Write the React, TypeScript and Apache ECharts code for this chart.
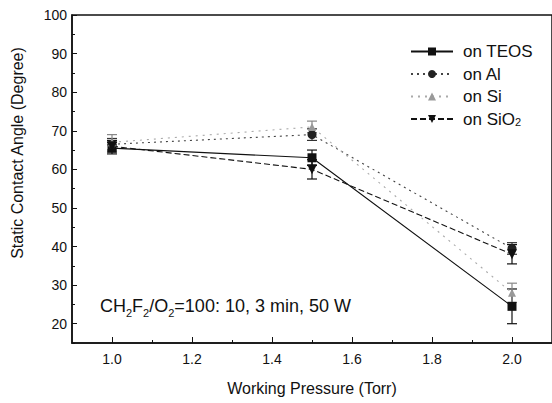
import React, { useEffect, useRef } from "react";
import * as echarts from "echarts";

const pressures = [1.0, 1.5, 2.0];
const teos = [65.5, 63, 24.5];
const teosErr = [1.5, 2, 4.5];
const al = [66.5, 69, 39.5];
const alErr = [1.5, 1.5, 1.5];
const si = [67, 71, 28];
const siErr = [2, 1.5, 2.5];
const sio2 = [66, 60, 38];
const sio2Err = [1.5, 2.5, 2.5];

const xMajor = [1.0, 1.2, 1.4, 1.6, 1.8, 2.0];
const xMinor = [1.1, 1.3, 1.5, 1.7, 1.9];
const yMajor = [20, 30, 40, 50, 60, 70, 80, 90, 100];
const yMinor = [15, 25, 35, 45, 55, 65, 75, 85, 95];

const FONT = "'Liberation Sans', Arial, sans-serif";

function pts(vals: number[]) {
  return pressures.map((p, i) => [p, vals[i]]);
}
function errs(vals: number[], e: number[]) {
  return pressures.map((p, i) => [p, vals[i] - e[i], vals[i] + e[i]]);
}

function errSeries(name: string, vals: number[], e: number[], color: string) {
  return {
    type: "custom",
    name: name + "-err",
    xAxisIndex: 0,
    yAxisIndex: 0,
    silent: true,
    z: 3,
    data: errs(vals, e),
    renderItem: (params: any, api: any) => {
      const x = api.value(0);
      const lo = api.coord([x, api.value(1)]);
      const hi = api.coord([x, api.value(2)]);
      const w = 5;
      const st = { stroke: color, lineWidth: 1.2 };
      return {
        type: "group",
        children: [
          { type: "line", shape: { x1: lo[0], y1: lo[1], x2: hi[0], y2: hi[1] }, style: st },
          { type: "line", shape: { x1: lo[0] - w, y1: lo[1], x2: lo[0] + w, y2: lo[1] }, style: st },
          { type: "line", shape: { x1: hi[0] - w, y1: hi[1], x2: hi[0] + w, y2: hi[1] }, style: st },
        ],
      };
    },
  };
}

export default function App() {
  const ref = useRef<HTMLDivElement>(null);
  useEffect(() => {
    if (!ref.current) return;
    const chart = echarts.init(ref.current, undefined, { renderer: "svg" });
    const axisCommon = {
      splitLine: { show: false },
    };
    chart.setOption({
      animation: false,
      backgroundColor: "#fff",
      textStyle: { fontFamily: FONT, color: "#111" },
      grid: {
        left: 72,
        top: 15,
        right: -1,
        bottom: 60,
        show: true,
        borderColor: "#111",
        borderWidth: 1.5,
        backgroundColor: "transparent",
      },
      xAxis: [
        {
          type: "value",
          min: 0.9,
          max: 2.1,
          position: "bottom",
          ...axisCommon,
          axisLine: { show: true, lineStyle: { color: "#111", width: 1.5 } },
          axisTick: { show: true, inside: true, length: 6, customValues: xMajor, lineStyle: { color: "#111" } },
          axisLabel: {
            customValues: xMajor,
            formatter: (v: number) => v.toFixed(1),
            fontSize: 14,
            color: "#111",
            fontFamily: FONT,
            margin: 9,
          },
          name: "Working Pressure (Torr)",
          nameLocation: "middle",
          nameGap: 37,
          nameTextStyle: { fontSize: 16, color: "#111", fontFamily: FONT },
        },
        {
          type: "value",
          min: 0.9,
          max: 2.1,
          position: "bottom",
          ...axisCommon,
          axisLine: { show: false },
          axisLabel: { show: false },
          axisTick: { show: true, inside: true, length: 3, customValues: xMinor, lineStyle: { color: "#111" } },
        },
      ],
      yAxis: [
        {
          type: "value",
          min: 15,
          max: 100,
          position: "left",
          ...axisCommon,
          axisLine: { show: true, lineStyle: { color: "#111", width: 1.5 } },
          axisTick: { show: true, inside: true, length: 5, customValues: yMajor, lineStyle: { color: "#111" } },
          axisLabel: {
            customValues: yMajor,
            fontSize: 14,
            color: "#111",
            fontFamily: FONT,
            margin: 5,
          },
        },
        {
          type: "value",
          min: 15,
          max: 100,
          position: "left",
          ...axisCommon,
          axisLine: { show: false },
          axisLabel: { show: false },
          axisTick: { show: true, inside: true, length: 3, customValues: yMinor, lineStyle: { color: "#111" } },
        },
      ],
      legend: {
        orient: "vertical",
        left: 405,
        top: 38,
        itemWidth: 42,
        itemHeight: 10,
        itemGap: 5.5,
        data: ["on TEOS", "on Al", "on Si", "on SiO2"],
        formatter: (name: string) => (name === "on SiO2" ? "{a|on SiO}{b|2}" : "{a|" + name + "}"),
        textStyle: {
          fontFamily: FONT,
          color: "#111",
          padding: [0, 0, 0, 5],
          rich: {
            a: { fontSize: 17, lineHeight: 17, fontFamily: FONT, color: "#111" },
            b: { fontSize: 11, lineHeight: 8, verticalAlign: "bottom", fontFamily: FONT, color: "#111" },
          },
        },
      },
      graphic: [
        {
          type: "text",
          x: 17,
          y: 153,
          rotation: Math.PI / 2,
          style: {
            text: "Static Contact Angle (Degree)",
            fontSize: 16,
            fontFamily: FONT,
            fill: "#111",
            align: "center",
            verticalAlign: "middle",
          },
        },
        {
          type: "text",
          left: 100,
          top: 297,
          style: {
            text: "{n|CH}{s|2}{n|F}{s|2}{n|/O}{s|2}{n|=100: 10, 3 min, 50 W}",
            fill: "#111",
            rich: {
              n: { fontSize: 18, lineHeight: 24, fontFamily: FONT, fill: "#111" },
              s: { fontSize: 11, lineHeight: 10, verticalAlign: "bottom", fontFamily: FONT, fill: "#111" },
            },
          },
        },
      ],
      series: [
        errSeries("on TEOS", teos, teosErr, "#111"),
        errSeries("on Al", al, alErr, "#333"),
        errSeries("on Si", si, siErr, "#888"),
        errSeries("on SiO2", sio2, sio2Err, "#111"),
        {
          type: "line",
          name: "on TEOS",
          data: pts(teos),
          symbol: "rect",
          symbolSize: 9,
          itemStyle: { color: "#111" },
          lineStyle: { color: "#111", width: 1.1, type: "solid" },
          z: 4,
        },
        {
          type: "line",
          name: "on Al",
          data: pts(al),
          symbol: "circle",
          symbolSize: 9,
          itemStyle: { color: "#222" },
          lineStyle: { color: "#444", width: 1.1, type: [2, 4] },
          z: 4,
        },
        {
          type: "line",
          name: "on Si",
          data: pts(si),
          symbol: "triangle",
          symbolSize: 8,
          itemStyle: { color: "#999" },
          lineStyle: { color: "#aaa", width: 1.1, type: [2, 5] },
          z: 4,
        },
        {
          type: "line",
          name: "on SiO2",
          data: pts(sio2),
          symbol: "triangle",
          symbolRotate: 180,
          symbolSize: 10,
          itemStyle: { color: "#111" },
          lineStyle: { color: "#111", width: 1.1, type: [6, 3] },
          z: 4,
        },
      ],
    });
    return () => chart.dispose();
  }, []);
  return (
    <div
      ref={ref}
      style={{ position: "fixed", left: 0, top: 0, width: 552, height: 403, background: "#fff" }}
    />
  );
}
